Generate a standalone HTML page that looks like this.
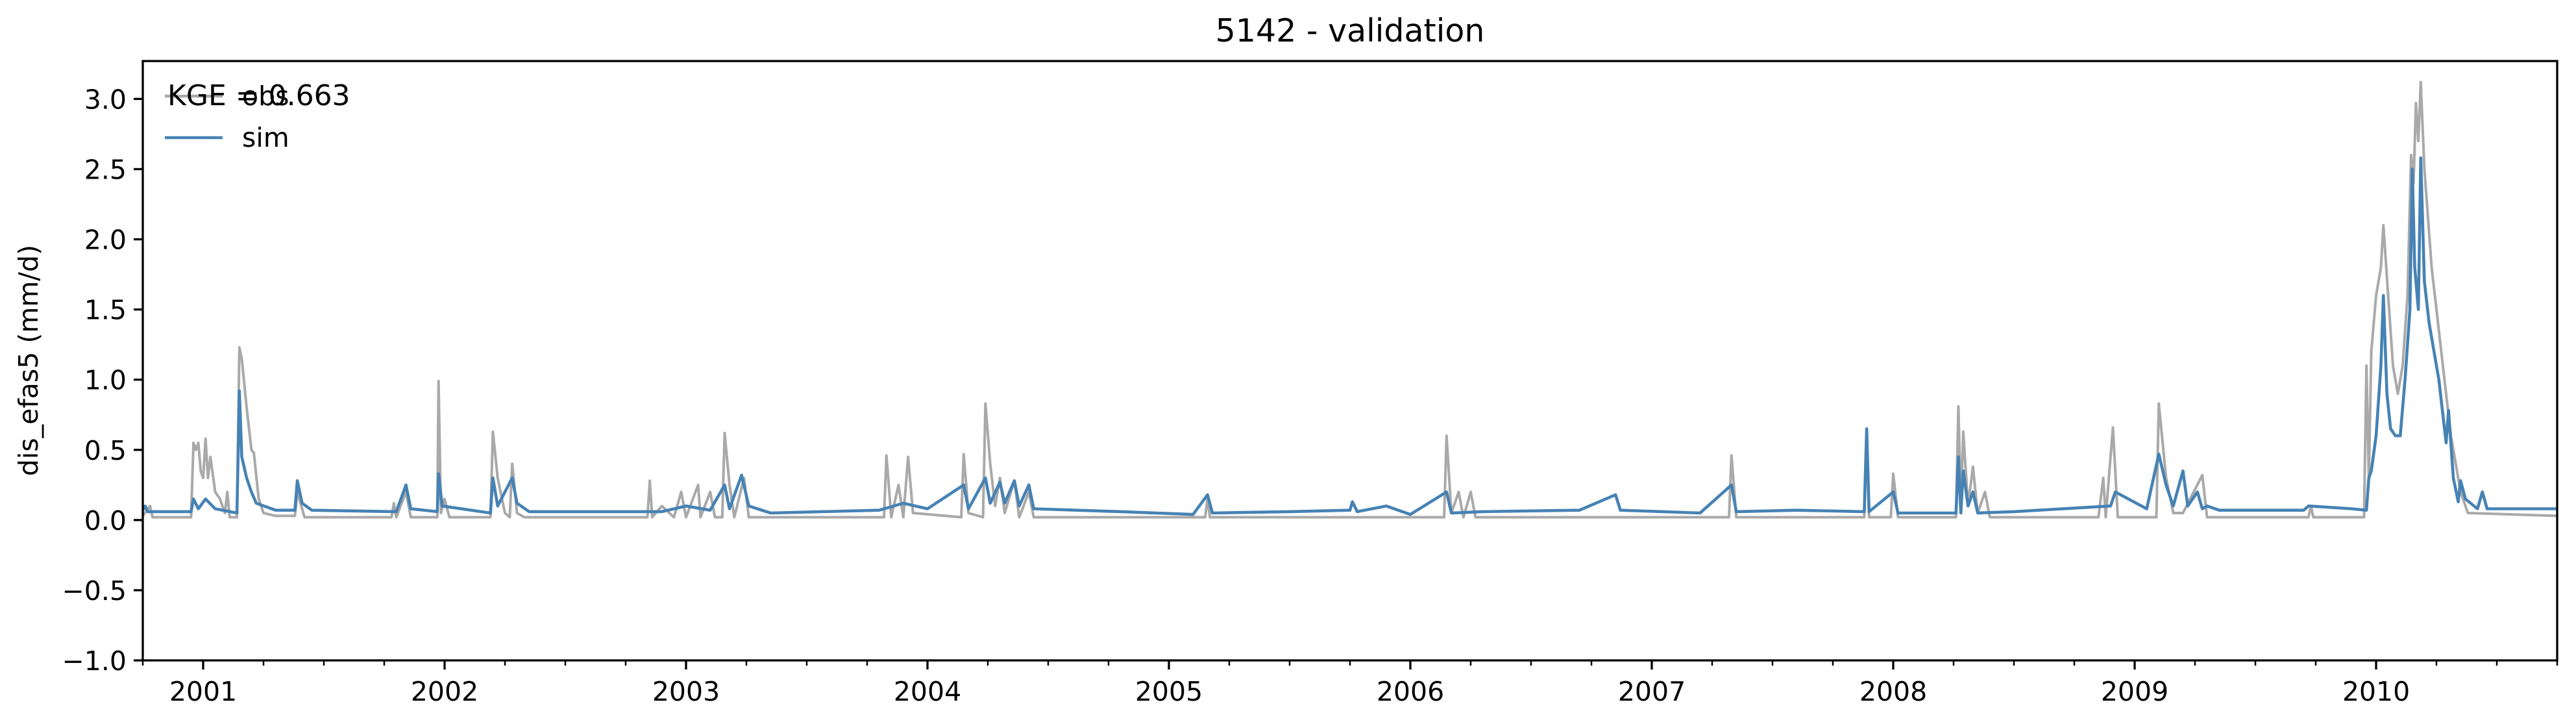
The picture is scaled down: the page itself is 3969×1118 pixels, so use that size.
<!DOCTYPE html>
<html><head><meta charset="utf-8"><style>
html,body{margin:0;padding:0;background:#fff;}
svg{display:block;font-family:"DejaVu Sans","Liberation Sans",sans-serif;}
</style></head><body>
<svg id="chart" width="3969" height="1118" viewBox="0 0 3969 1118" xmlns="http://www.w3.org/2000/svg">
<rect width="3969" height="1118" fill="#fff"/>
<text x="2080" y="64" font-size="49" text-anchor="middle">5142 - validation</text>
<g id="plot"></g>
<g id="axes"></g>
<text transform="translate(58,555) rotate(-90)" font-size="41" text-anchor="middle">dis_efas5 (mm/d)</text>
<g>
<line x1="254" y1="148" x2="343" y2="148" stroke="#a9a9a9" stroke-width="4.5"/>
<text x="373" y="162" font-size="41">obs</text>
<line x1="254" y1="212" x2="343" y2="212" stroke="#4682b4" stroke-width="4.5"/>
<text x="373" y="226" font-size="41">sim</text>
</g>
<text x="258" y="162" font-size="44">KGE = 0.663</text>
</svg>
<script>
const yTicks = [-1.0,-0.5,0.0,0.5,1.0,1.5,2.0,2.5,3.0];
const yTickLabels = ["\u22121.0","\u22120.5","0.0","0.5","1.0","1.5","2.0","2.5","3.0"];
const xYears = [2001,2002,2003,2004,2005,2006,2007,2008,2009,2010];
const obsT = [2000.75,2000.78,2000.79,2000.95,2000.96,2000.97,2000.98,2000.99,2001.0,2001.01,2001.02,2001.03,2001.05,2001.07,2001.09,2001.1,2001.11,2001.14,2001.15,2001.16,2001.18,2001.2,2001.21,2001.23,2001.25,2001.3,2001.38,2001.39,2001.42,2001.78,2001.79,2001.8,2001.84,2001.86,2001.97,2001.975,2001.985,2002.0,2002.02,2002.19,2002.2,2002.22,2002.25,2002.27,2002.28,2002.3,2002.33,2002.84,2002.85,2002.86,2002.9,2002.95,2002.98,2003.0,2003.05,2003.06,2003.1,2003.12,2003.15,2003.16,2003.18,2003.2,2003.24,2003.26,2003.82,2003.83,2003.85,2003.88,2003.9,2003.92,2003.94,2004.14,2004.15,2004.17,2004.23,2004.24,2004.26,2004.28,2004.3,2004.32,2004.36,2004.38,2004.42,2004.44,2005.15,2005.16,2005.17,2006.14,2006.15,2006.17,2006.2,2006.22,2006.25,2006.27,2007.32,2007.33,2007.35,2007.88,2007.89,2007.9,2007.99,2008.0,2008.02,2008.26,2008.27,2008.28,2008.29,2008.31,2008.33,2008.35,2008.38,2008.4,2008.85,2008.87,2008.88,2008.91,2008.93,2009.09,2009.1,2009.13,2009.16,2009.2,2009.28,2009.3,2009.72,2009.73,2009.74,2009.95,2009.96,2009.97,2009.98,2010.0,2010.02,2010.03,2010.05,2010.07,2010.09,2010.11,2010.13,2010.145,2010.155,2010.165,2010.175,2010.185,2010.2,2010.23,2010.27,2010.31,2010.35,2010.38,2010.75];
const obsV = [0.03,0.1,0.02,0.02,0.55,0.5,0.55,0.35,0.3,0.58,0.3,0.45,0.2,0.15,0.05,0.2,0.02,0.02,1.23,1.15,0.8,0.5,0.48,0.15,0.05,0.03,0.03,0.2,0.02,0.02,0.12,0.02,0.2,0.02,0.02,0.99,0.05,0.15,0.02,0.02,0.63,0.3,0.05,0.02,0.4,0.05,0.02,0.02,0.28,0.02,0.1,0.02,0.2,0.02,0.25,0.02,0.2,0.02,0.02,0.62,0.25,0.02,0.3,0.02,0.02,0.46,0.02,0.25,0.02,0.45,0.05,0.02,0.47,0.05,0.02,0.83,0.4,0.1,0.3,0.05,0.28,0.02,0.2,0.02,0.02,0.15,0.02,0.02,0.6,0.05,0.2,0.02,0.2,0.02,0.02,0.46,0.02,0.02,0.6,0.02,0.02,0.33,0.02,0.02,0.81,0.1,0.63,0.1,0.38,0.05,0.2,0.02,0.02,0.3,0.02,0.66,0.02,0.02,0.83,0.3,0.05,0.05,0.32,0.02,0.02,0.1,0.02,0.02,1.1,0.3,1.2,1.6,1.8,2.1,1.6,1.1,0.9,1.1,1.6,2.6,2.4,2.97,2.7,3.12,2.5,1.8,1.2,0.6,0.2,0.05,0.03];
const simT = [2000.75,2000.76,2000.77,2000.95,2000.96,2000.98,2001.01,2001.05,2001.14,2001.15,2001.16,2001.18,2001.2,2001.22,2001.3,2001.38,2001.39,2001.41,2001.45,2001.8,2001.84,2001.86,2001.97,2001.975,2001.99,2002.19,2002.2,2002.22,2002.28,2002.3,2002.35,2002.9,2003.0,2003.1,2003.16,2003.18,2003.23,2003.26,2003.35,2003.8,2003.9,2004.0,2004.15,2004.17,2004.24,2004.26,2004.3,2004.32,2004.36,2004.38,2004.42,2004.44,2004.8,2005.1,2005.16,2005.18,2005.5,2005.75,2005.76,2005.78,2005.9,2006.0,2006.15,2006.17,2006.3,2006.7,2006.85,2006.87,2007.2,2007.33,2007.35,2007.6,2007.88,2007.89,2007.9,2008.0,2008.02,2008.26,2008.27,2008.28,2008.29,2008.31,2008.33,2008.35,2008.5,2008.9,2008.92,2009.05,2009.1,2009.13,2009.16,2009.2,2009.22,2009.26,2009.28,2009.3,2009.35,2009.7,2009.72,2009.9,2009.96,2009.97,2009.98,2010.0,2010.02,2010.03,2010.045,2010.06,2010.08,2010.1,2010.12,2010.14,2010.15,2010.16,2010.175,2010.185,2010.2,2010.22,2010.26,2010.29,2010.3,2010.32,2010.34,2010.35,2010.37,2010.42,2010.44,2010.46,2010.75];
const simV = [0.07,0.1,0.06,0.06,0.15,0.08,0.15,0.08,0.05,0.92,0.45,0.3,0.2,0.12,0.07,0.07,0.28,0.12,0.07,0.06,0.25,0.08,0.06,0.33,0.1,0.05,0.3,0.1,0.3,0.12,0.06,0.06,0.1,0.07,0.25,0.08,0.32,0.1,0.05,0.07,0.12,0.08,0.25,0.08,0.3,0.12,0.27,0.12,0.28,0.1,0.25,0.08,0.06,0.04,0.18,0.05,0.06,0.07,0.13,0.06,0.1,0.04,0.2,0.05,0.06,0.07,0.18,0.07,0.05,0.25,0.06,0.07,0.06,0.65,0.06,0.2,0.05,0.05,0.45,0.05,0.35,0.1,0.2,0.05,0.06,0.1,0.2,0.08,0.47,0.25,0.1,0.35,0.1,0.2,0.08,0.1,0.07,0.07,0.1,0.08,0.07,0.3,0.35,0.6,1.1,1.6,0.9,0.65,0.6,0.6,1.0,1.5,2.5,1.8,1.5,2.58,1.7,1.4,1.0,0.55,0.78,0.3,0.13,0.28,0.15,0.08,0.2,0.08,0.08];

const L=220,R=3940,T=94,B=1017;
const x0=2000.75,x1=2010.75,y0=-1.0,y1=3.27;
function xs(t){return L+(t-x0)/(x1-x0)*(R-L);}
function ys(v){return B-(v-y0)/(y1-y0)*(B-T);}
const NS="http://www.w3.org/2000/svg";
const plot=document.getElementById('plot'), axes=document.getElementById('axes');
function mk(tag,attrs,parent){const e=document.createElementNS(NS,tag);for(const k in attrs)e.setAttribute(k,attrs[k]);parent.appendChild(e);return e;}
function pts(ts,vs){return ts.map((t,i)=>xs(t).toFixed(1)+','+ys(vs[i]).toFixed(1)).join(' ');}
const po=mk('polyline',{points:pts(obsT,obsV),fill:'none',stroke:'#a9a9a9','stroke-width':4,'stroke-linejoin':'round'},plot);


const ps=mk('polyline',{points:pts(simT,simV),fill:'none',stroke:'#4682b4','stroke-width':4.6,'stroke-linejoin':'round'},plot);


const fr=mk('rect',{x:L,y:T,width:R-L,height:B-T,fill:'none',stroke:'#000','stroke-width':3.3},axes);


yTicks.forEach((v,i)=>{const y=ys(v);
 const tk=mk('line',{x1:L-14,y1:y,x2:L,y2:y,stroke:'#000','stroke-width':3.3},axes);
 
 
 const tx=mk('text',{x:L-25,y:y+15,'font-size':41,'text-anchor':'end'},axes);
 tx.textContent=yTickLabels[i];
 
 
});
for(let yr=2000;yr<=2010;yr++){for(let q=0;q<4;q++){const t=yr+q*0.25;if(t<x0-1e-6||t>x1+1e-6)continue;
 const major=(q===0);const x=xs(t);
 const tk=mk('line',{x1:x,y1:B,x2:x,y2:B+(major?14:8),stroke:'#000','stroke-width':major?3.3:2.5},axes);
 
 
}}
xYears.forEach(yr=>{const tx=mk('text',{x:xs(yr),y:B+62,'font-size':41,'text-anchor':'middle'},axes);
 tx.textContent=String(yr);
 
 
});
</script>
</body></html>
